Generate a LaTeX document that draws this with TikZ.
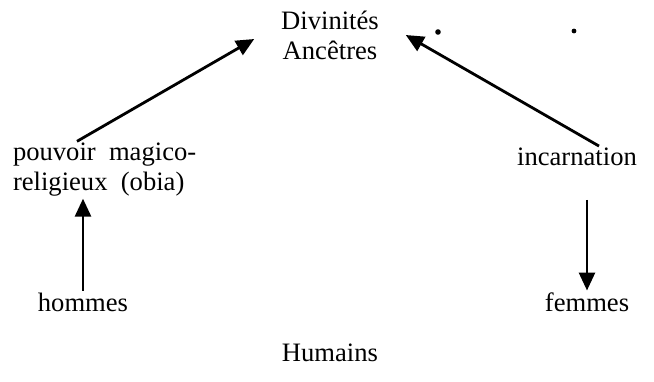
\documentclass[tikz,border=0pt]{standalone}
\usepackage{fontspec}
\setmainfont{Liberation Serif}
\usetikzlibrary{arrows.meta}
\begin{document}
\begin{tikzpicture}[x=0.5pt,y=-0.5pt,>={Triangle[length=9pt,width=8pt]}]
        % Styles
        \tikzstyle{txt} = [inner sep=0pt, outer sep=1pt, font=\fontsize{13.3}{15}\selectfont]
        \tikzstyle{link} = [->, line width=1.4pt]

        \useasboundingbox (0,0) rectangle (654,381);

        % ==== Nodes ====
        \node[txt, align=center, inner xsep=12.5pt] (divin)  at (330,35)  {Divinités\\Ancêtres};
        \node[txt, align=left, anchor=west]         (pouvoir) at (11,170) {pouvoir\ \ magico-\\religieux\ \ (obia)};
        \node[txt] (incarnation) at (577,157) {incarnation};
        \node[txt] (hommes)      at (83,302)  {hommes};
        \node[txt] (femmes)      at (587,302) {femmes};
        \node[txt] (humains)     at (330,353) {Humains};

        % stray marks of the original
        \fill (438,32) circle (1.4pt);
        \fill (574,31) circle (1.2pt);

        % ==== Arrows ====
        \draw[link] ([xshift=33pt]pouvoir.north west) -- ([yshift=-2pt]divin.west);
        \draw[link] ([xshift=11pt]incarnation.north) -- (divin.east);
        \draw[link] (hommes.north) -- (hommes.north |- pouvoir.south);
        \draw[link, shorten <=16pt] (femmes.north |- incarnation.south) -- (femmes.north);
\end{tikzpicture}
\end{document}
